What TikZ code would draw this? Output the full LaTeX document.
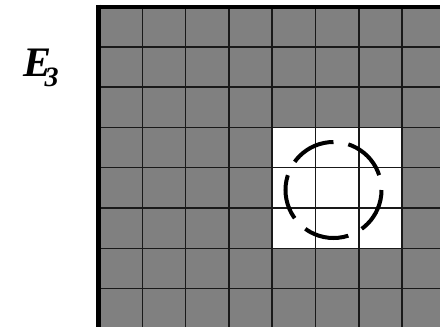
\documentclass[tikz,border=0pt]{standalone}
\usepackage{fontspec}
\setmainfont{Liberation Serif}
\begin{document}
\begin{tikzpicture}[x=1pt,y=-1pt,
  gridline/.style={line width=1.5pt,draw=black!90},
  border/.style={line width=4.8pt,draw=black},
  dashcircle/.style={line width=4pt,draw=black,dash pattern=on 45.2pt off 15.1pt,dash phase=45.2pt}]
\useasboundingbox (0,0) rectangle (440,327);
% gray field
\fill[gray] (99,6.5) rectangle (440,327);
% white cells
\fill[white] (272.2,127.4) rectangle (402.1,248.3);
% grid lines
\foreach \k in {1,...,7} {
  \draw[gridline] ({99+43.3*\k},6.5) -- ({99+43.3*\k},327);
  \draw[gridline] (99,{6.5+40.3*\k}) -- (440,{6.5+40.3*\k});
}
% thick borders
\draw[border] (98.5,4.5) -- (98.5,327);
\draw[border] (96.1,7) -- (440,7);
% dashed circle
\coordinate (c) at (333.5,190);
\draw[dashcircle] (c) circle[radius=48pt];
% label
\node (lbl) at (41,68) {\fontsize{42}{42}\selectfont\bfseries\itshape E\kern-7pt\raisebox{-10pt}{\fontsize{28}{28}\selectfont 3}};
\end{tikzpicture}
\end{document}
